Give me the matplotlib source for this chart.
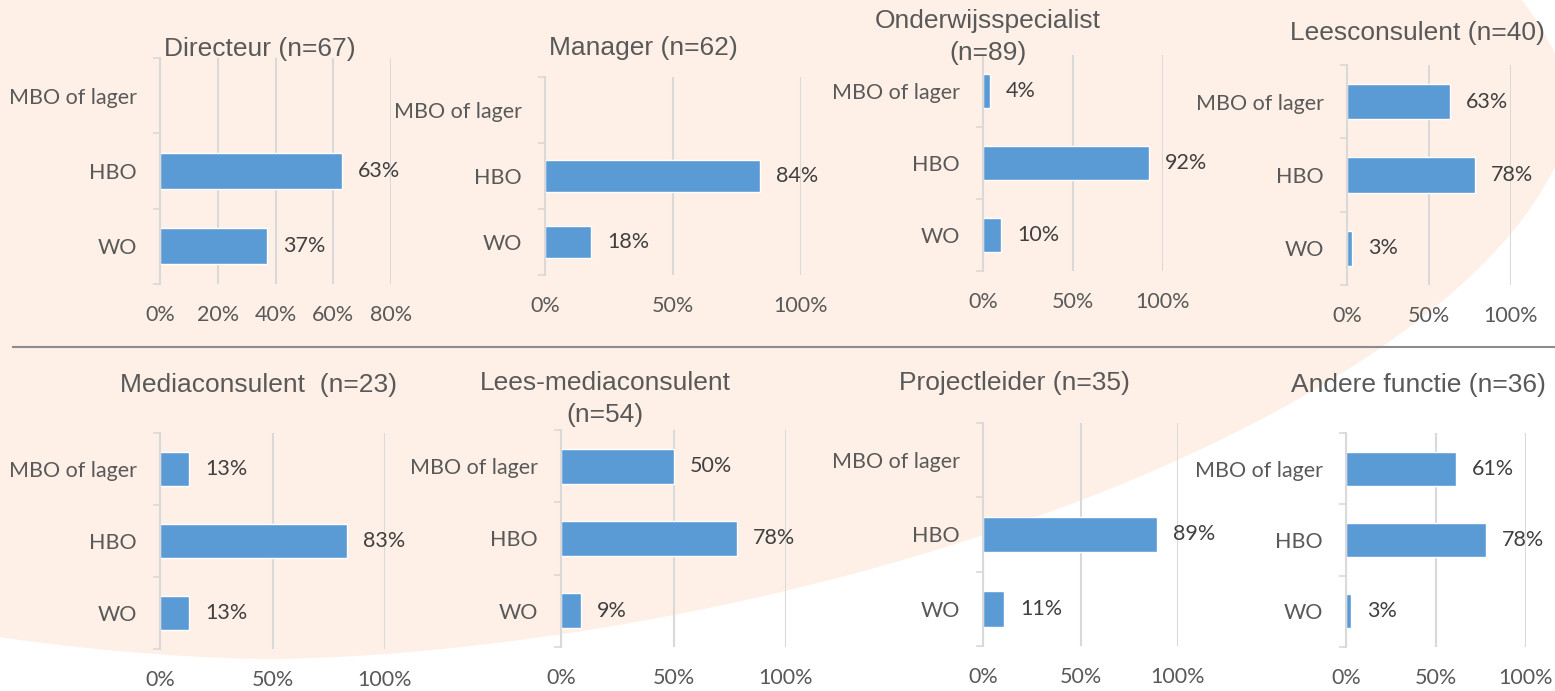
#Opleidingsniveau per functie: 8 kleine staafdiagrammen
import numpy as np
import matplotlib.pyplot as plt
from matplotlib.patches import Polygon

#the data (percentages, nan = no bar)
titles = ['Directeur (n=67)', 'Manager (n=62)', 'Onderwijsspecialist\n(n=89)', 'Leesconsulent (n=40)',
          'Mediaconsulent  (n=23)', 'Lees-mediaconsulent\n(n=54)', 'Projectleider (n=35)', 'Andere functie (n=36)']
categories = ['MBO of lager', 'HBO', 'WO']
mbo = [np.nan, np.nan, 4, 63, 13, 50, np.nan, 61]
hbo = [63, 84, 92, 78, 83, 78, 89, 78]
wo = [37, 18, 10, 3, 13, 9, 11, 3]
x_max = [80, 100, 100, 100, 100, 100, 100, 100]
x_step = [20, 50, 50, 50, 50, 50, 50, 50]

#panel boxes in pixels: left, right, top, bottom
boxes = [(160, 391, 58, 284), (545, 801, 77, 275), (983, 1163, 55, 271), (1347, 1511, 65, 285),
         (160, 385, 433, 649), (561, 786, 430, 647), (983, 1178, 423, 646), (1346, 1526, 433, 647)]
#title centers in pixels
title_pos = [(260, 49), (643, 48), (988, 37), (1417, 33),
             (258, 385), (605, 399), (1014, 383), (1418, 385)]

W, H = 1555, 691
bar_color = '#5b9bd5'
grid_color = '#d9d9d9'
label_color = '#595959'
value_color = '#404040'
label_font = ['Lato', 'DejaVu Sans']
title_font = ['Liberation Sans', 'DejaVu Sans']

fig = plt.figure(figsize=(W / 100, H / 100), dpi=100)

#background shape
bg = fig.add_axes([0, 0, 1, 1])
bg.set_xlim(0, W)
bg.set_ylim(H, 0)
bg.axis('off')
t = np.linspace(0, 2 * np.pi, 600)
n = 1.72
cx, cy, a, b = 270, 110, 1300, 549
px = cx + a * np.sign(np.cos(t)) * np.abs(np.cos(t)) ** (2 / n)
py = cy + b * np.sign(np.sin(t)) * np.abs(np.sin(t)) ** (2 / n)
bg.add_patch(Polygon(np.column_stack([px, py]), closed=True, facecolor='#fef0e7', edgecolor='none'))
#separator line
bg.plot([13, W], [347, 347], color='#8c8c8c', lw=1.5)

for i in range(8):
    x0, x1, y0, y1 = boxes[i]
    ax = fig.add_axes([x0 / W, 1 - y1 / H, (x1 - x0) / W, (y1 - y0) / H])
    ax.patch.set_alpha(0)
    vals = [mbo[i], hbo[i], wo[i]]
    for j, v in enumerate(vals):
        if np.isnan(v):
            continue
        ax.barh(j, v, height=0.48, color=bar_color, edgecolor='white', linewidth=1, zorder=3)
        ax.annotate(f'{v:.0f}%', (v, j), xytext=(11.5, 0), textcoords='offset points',
                    va='center', ha='left', fontsize=15.5, color=value_color, family=label_font)
    ax.set_xlim(0, x_max[i])
    ax.set_ylim(2.5, -0.5)
    ax.set_xticks(np.arange(0, x_max[i] + 1, x_step[i]))
    ax.set_xticklabels([f'{v}%' for v in np.arange(0, x_max[i] + 1, x_step[i])],
                       fontsize=15.5, color=label_color, family=label_font)
    ax.set_yticks(range(3))
    ax.set_yticklabels(categories, fontsize=15.5, color=label_color, family=label_font)
    ax.set_yticks([-0.5, 0.5, 1.5, 2.5], minor=True)
    ax.tick_params(axis='y', which='major', length=0, pad=16.5)
    ax.tick_params(axis='y', which='minor', length=5, width=1.2, color=grid_color)
    ax.tick_params(axis='x', length=0, pad=15)
    ax.xaxis.grid(True, color=grid_color, lw=1.5, zorder=0)
    ax.set_axisbelow(True)
    for s in ['top', 'right', 'bottom']:
        ax.spines[s].set_visible(False)
    ax.spines['left'].set_color(grid_color)
    ax.spines['left'].set_linewidth(1.5)
    ax.spines['left'].set_zorder(4)

    tx, ty = title_pos[i]
    fig.text(tx / W, 1 - ty / H, titles[i], ha='center', va='center', fontsize=19,
             color=label_color, family=title_font, linespacing=1.4)

fig.savefig('out.png', dpi=100)
